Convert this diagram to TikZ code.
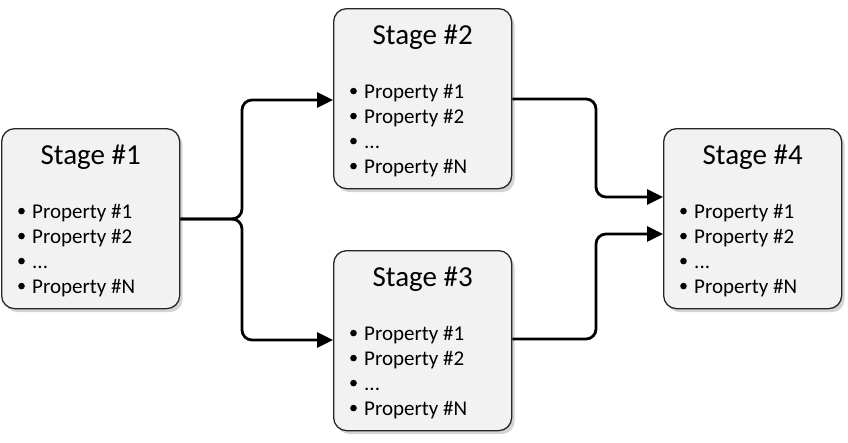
\documentclass[tikz,border=0pt]{standalone}
\usepackage{fontspec}
\setmainfont{Carlito}
\usetikzlibrary{arrows.meta,positioning}
\tikzset{
  stagebox/.style={draw=black!85, line width=1.3pt, fill=black!5, rounded corners=13pt,
    minimum width=178pt, minimum height=180pt, anchor=north west, inner sep=0pt,
    preaction={draw=none, fill=black!17, transform canvas={shift={(3pt,-3.5pt)}}}},
  stagetitle/.style={anchor=base, font=\fontsize{29}{34}\selectfont, inner sep=0pt},
  proplist/.style={anchor=north west, inner sep=0pt, align=left,
    font=\fontsize{21}{25}\selectfont},
  conn/.style={line width=2.8pt, rounded corners=10pt, -{Triangle[length=16pt,width=15pt]}}
}
\newcommand{\bul}{\makebox[14pt][l]{\raisebox{4pt}{\tikz\fill (0,0) circle (3.3pt);}}}
\newcommand{\props}{\bul Property \#1\\ \bul Property \#2\\ \bul ...\\ \bul Property \#N}
\begin{document}
\begin{tikzpicture}[x=1pt,y=-1pt]
\useasboundingbox (0,0) rectangle (848,442);
\node[stagebox] (s1) at (1,128) {};
\node[stagebox] (s2) at (333,8) {};
\node[stagebox] (s3) at (333,250) {};
\node[stagebox] (s4) at (663,128) {};
\foreach \s/\n in {s1/1,s2/2,s3/3,s4/4}{
  \node[stagetitle] (\s t) at ([yshift=-36pt]\s.north) {Stage \#\n};
  \node[proplist] (\s p) at ([xshift=17pt,yshift=-76pt]\s.north west) {\props};
}
\coordinate (j1) at (242,219);
\draw[conn] (s1.east |- j1) -| (242,100) -- (s2.west |- 0,100);
\draw[conn] (s1.east |- j1) -| (242,340) -- (s3.west |- 0,340);
\draw[conn] (s2.east |- 0,99) -| (596,197) -- (s4.west |- 0,197);
\draw[conn] (s3.east |- 0,339) -| (596,234) -- (s4.west |- 0,234);
\end{tikzpicture}
\end{document}
